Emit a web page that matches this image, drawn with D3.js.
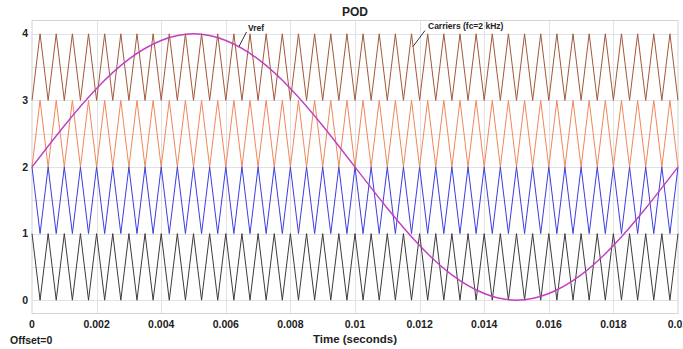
<!DOCTYPE html>
<html>
<head>
<meta charset="utf-8">
<script src="https://cdn.jsdelivr.net/npm/d3@7"></script>
<style>
  html, body { margin: 0; padding: 0; background: #fff; }
  svg { display: block; font-family: "Liberation Sans", Arial, sans-serif; }
</style>
</head>
<body>
<svg id="chart" width="683" height="349"></svg>
<script>
// ---- data ----
const title = "POD";
const xLabel = "Time (seconds)";
const offsetLabel = "Offset=0";
const xTicks = [0, 0.002, 0.004, 0.006, 0.008, 0.01, 0.012, 0.014, 0.016, 0.018, 0.02];
const xTickLabels = ["0", "0.002", "0.004", "0.006", "0.008", "0.01", "0.012", "0.014", "0.016", "0.018", "0.02"];
const yTicks = [0, 1, 2, 3, 4];
const yGrid = [0, 0.5, 1, 1.5, 2, 2.5, 3, 3.5, 4];

// carrier vertex times (ms): peaks / troughs every 0.25 ms (fc = 2 kHz)
const carrierTimesMs = [0, 0.25, 0.5, 0.75, 1, 1.25, 1.5, 1.75, 2, 2.25, 2.5, 2.75, 3, 3.25, 3.5, 3.75,
  4, 4.25, 4.5, 4.75, 5, 5.25, 5.5, 5.75, 6, 6.25, 6.5, 6.75, 7, 7.25, 7.5, 7.75,
  8, 8.25, 8.5, 8.75, 9, 9.25, 9.5, 9.75, 10, 10.25, 10.5, 10.75, 11, 11.25, 11.5, 11.75,
  12, 12.25, 12.5, 12.75, 13, 13.25, 13.5, 13.75, 14, 14.25, 14.5, 14.75, 15, 15.25, 15.5, 15.75,
  16, 16.25, 16.5, 16.75, 17, 17.25, 17.5, 17.75, 18, 18.25, 18.5, 18.75, 19, 19.25, 19.5, 19.75, 20];
const carrierNames = ["c4", "c3", "c2", "c1"];
const carrierLow = [3, 2, 1, 0];
const carrierHigh = [4, 3, 2, 1];
const carrierStartHigh = [false, false, true, true]; // phase opposition below level 2
const carrierColors = ["#a3583b", "#f0875a", "#3d3de0", "#3c3c3c"];

// reference (Vref) read every 1 ms
const vrefTimesMs = [0, 1, 2, 3, 4, 5, 6, 7, 8, 9, 10, 11, 12, 13, 14, 15, 16, 17, 18, 19, 20];
const vrefValues = [2.00, 2.62, 3.18, 3.62, 3.90, 4.00, 3.90, 3.62, 3.18, 2.62, 2.00,
  1.38, 0.82, 0.38, 0.10, 0.00, 0.10, 0.38, 0.82, 1.38, 2.00];
const vrefColor = "#c23cc4";

// ---- layout ----
const svg = d3.select("#chart");
const x = d3.scaleLinear().domain([0, 0.02]).range([32, 678]);
const y = d3.scaleLinear().domain([-0.2, 4.2]).range([313.5, 20.5]);

const g = svg.append("g");

// grid
g.append("g").selectAll("line").data(yGrid).join("line")
  .attr("x1", x(0)).attr("x2", x(0.02))
  .attr("y1", d => Math.round(y(d)) + 0.5).attr("y2", d => Math.round(y(d)) + 0.5)
  .attr("stroke", "#e2e2e2").attr("stroke-width", 1);
g.append("g").selectAll("line").data(xTicks.slice(1, -1)).join("line")
  .attr("x1", d => Math.round(x(d)) + 0.5).attr("x2", d => Math.round(x(d)) + 0.5)
  .attr("y1", y(4.2)).attr("y2", y(-0.2))
  .attr("stroke", "#e2e2e2").attr("stroke-width", 1);

// frame
g.append("rect")
  .attr("x", x(0)).attr("y", y(4.2))
  .attr("width", x(0.02) - x(0)).attr("height", y(-0.2) - y(4.2))
  .attr("fill", "none").attr("stroke", "#d4d4d4").attr("stroke-width", 1);

// carriers
const line = d3.line().x(d => x(d[0])).y(d => y(d[1]));
carrierNames.forEach((name, ci) => {
  const pts = carrierTimesMs.map((t, i) => {
    const atHigh = carrierStartHigh[ci] ? (i % 2 === 0) : (i % 2 === 1);
    return [t / 1000, atHigh ? carrierHigh[ci] : carrierLow[ci]];
  });
  g.append("path").datum(pts)
    .attr("d", line)
    .attr("fill", "none")
    .attr("stroke", carrierColors[ci])
    .attr("stroke-width", 1)
    .attr("stroke-linejoin", "miter");
});

// Vref
const vrefPts = vrefTimesMs.map((t, i) => [t / 1000, vrefValues[i]]);
g.append("path").datum(vrefPts)
  .attr("d", d3.line().x(d => x(d[0])).y(d => y(d[1])).curve(d3.curveNatural))
  .attr("fill", "none")
  .attr("stroke", vrefColor)
  .attr("stroke-width", 1.4);

// axes labels
const tickFont = "bold 10.5px 'Liberation Sans', Arial, sans-serif";
g.append("g").selectAll("text").data(yTicks).join("text")
  .attr("x", 28).attr("y", d => y(d))
  .attr("dy", "0.35em")
  .attr("text-anchor", "end")
  .style("font", tickFont).attr("fill", "#222")
  .text(d => d);
g.append("g").selectAll("text").data(xTicks).join("text")
  .attr("x", d => x(d)).attr("y", 324)
  .attr("dy", "0.35em")
  .attr("text-anchor", "middle")
  .style("font", tickFont).attr("fill", "#222")
  .text((d, i) => xTickLabels[i]);

svg.append("text")
  .attr("x", (x(0) + x(0.02)) / 2).attr("y", 12)
  .attr("dy", "0.35em").attr("text-anchor", "middle")
  .style("font", "bold 12px 'Liberation Sans', Arial, sans-serif").attr("fill", "#222")
  .text(title);
svg.append("text")
  .attr("x", (x(0) + x(0.02)) / 2).attr("y", 339)
  .attr("dy", "0.35em").attr("text-anchor", "middle")
  .style("font", "bold 11.5px 'Liberation Sans', Arial, sans-serif").attr("fill", "#222")
  .text(xLabel);
svg.append("text")
  .attr("x", 10).attr("y", 340)
  .attr("dy", "0.35em").attr("text-anchor", "start")
  .style("font", "bold 10.5px 'Liberation Sans', Arial, sans-serif").attr("fill", "#222")
  .text(offsetLabel);

// annotations
const annFont = "bold 8.5px 'Liberation Sans', Arial, sans-serif";
svg.append("text").attr("x", 248).attr("y", 28).attr("dy", "0.35em")
  .style("font", annFont).attr("fill", "#222").text("Vref");
svg.append("line").attr("x1", 246.5).attr("y1", 32).attr("x2", 239).attr("y2", 46.5)
  .attr("stroke", "#333").attr("stroke-width", 1);
svg.append("text").attr("x", 428).attr("y", 26).attr("dy", "0.35em")
  .style("font", annFont).attr("fill", "#222").text("Carriers (fc=2 kHz)");
svg.append("line").attr("x1", 425).attr("y1", 30.5).attr("x2", 413).attr("y2", 46.5)
  .attr("stroke", "#333").attr("stroke-width", 1);
</script>
</body>
</html>
